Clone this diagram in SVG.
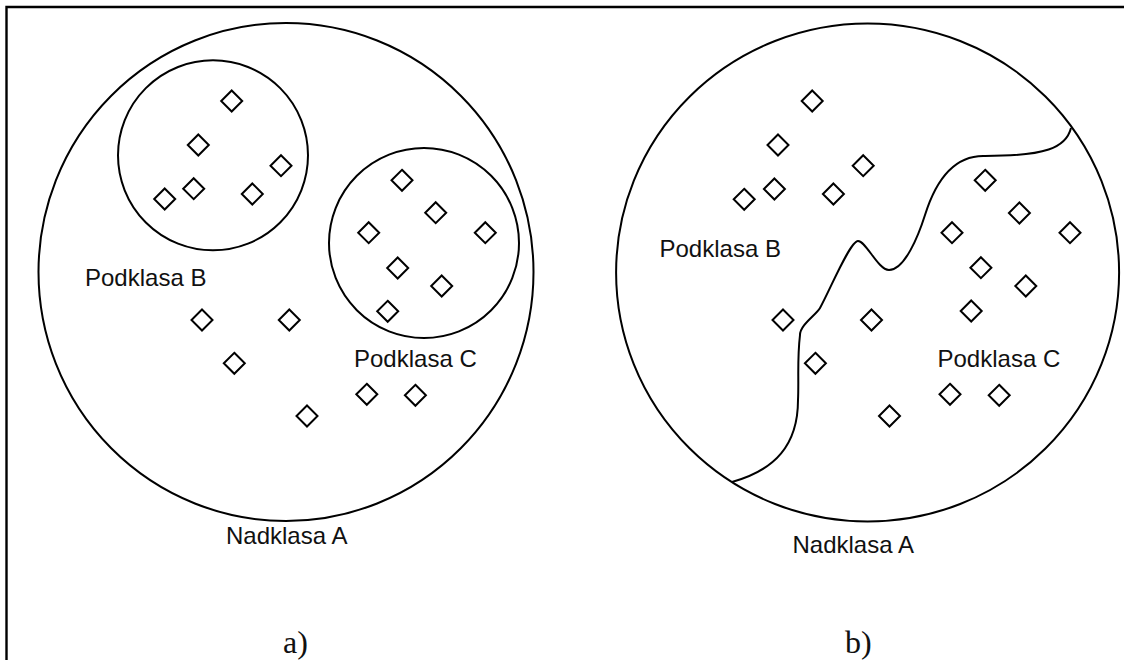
<svg xmlns="http://www.w3.org/2000/svg" xmlns:xlink="http://www.w3.org/1999/xlink" width="1124" height="660" viewBox="0 0 1124 660">
<style>
.ln{fill:none;stroke:#000;stroke-width:2}
.fr{fill:none;stroke:#000;stroke-width:2.4}
.lb{font-family:"Liberation Sans",Arial,sans-serif;font-size:24px;fill:#111}
.cap{font-family:"Liberation Serif","Times New Roman",serif;font-size:32px;fill:#111}
</style>
<defs>
<path id="dm" class="ln" d="M0,-10.5 L10.5,0 L0,10.5 L-10.5,0 Z"/>
</defs>
<rect width="1124" height="660" fill="#fff"/>
<g id="frame">
<path class="fr" d="M6.5,660 V7 H1124"/>
</g>

<g id="panel-a">
<g id="a-nadklasa-A">
<ellipse class="ln" cx="286" cy="272" rx="247.5" ry="249"/>
<text class="lb" x="226" y="544">Nadklasa A</text>
</g>
<g id="a-podklasa-B">
<circle class="ln" cx="213" cy="155.3" r="95"/>
<text class="lb" x="85" y="285.7">Podklasa B</text>
<use href="#dm" x="231.7" y="101"/>
<use href="#dm" x="198.3" y="145"/>
<use href="#dm" x="281" y="165.7"/>
<use href="#dm" x="193.7" y="188.7"/>
<use href="#dm" x="164.7" y="199"/>
<use href="#dm" x="252.3" y="194"/>
</g>
<g id="a-podklasa-C">
<circle class="ln" cx="424" cy="243" r="95"/>
<text class="lb" x="354" y="367.3">Podklasa C</text>
<use href="#dm" x="402" y="180.3"/>
<use href="#dm" x="435.7" y="212.7"/>
<use href="#dm" x="368.7" y="232.7"/>
<use href="#dm" x="485.3" y="232.7"/>
<use href="#dm" x="397.7" y="268"/>
<use href="#dm" x="441.7" y="286"/>
<use href="#dm" x="387.7" y="311.3"/>
</g>
<g id="a-points">
<use href="#dm" x="202" y="320"/>
<use href="#dm" x="289.3" y="320"/>
<use href="#dm" x="234.3" y="363.3"/>
<use href="#dm" x="307" y="416"/>
<use href="#dm" x="366.8" y="394.3"/>
<use href="#dm" x="415.4" y="395.3"/>
</g>
<text id="caption-a" class="cap" x="283" y="653">a)</text>
</g>

<g id="panel-b">
<g id="b-nadklasa-A">
<ellipse class="ln" cx="867.6" cy="272.5" rx="251.5" ry="249"/>
<text class="lb" x="792.5" y="553.3">Nadklasa A</text>
</g>
<g id="connectors">
<path id="b-boundary" class="ln" d="M1071,128 C1066,148 1045,156 985,156 C955,155 936,180 925,215 C919,234 905,270 889,270 C878,270 866,241 858,241 C850,241 830,290 820,308 C816,315 800,325 800,335 C797,360 799,380 798,400 C798,445 775,470 732,482"/>
</g>
<g id="b-podklasa-B">
<text class="lb" x="659.5" y="257">Podklasa B</text>
<use href="#dm" x="812.2" y="101"/>
<use href="#dm" x="778" y="145"/>
<use href="#dm" x="863.2" y="165.7"/>
<use href="#dm" x="774.4" y="189"/>
<use href="#dm" x="744.2" y="199.3"/>
<use href="#dm" x="833.4" y="194"/>
<use href="#dm" x="783" y="320"/>
<use href="#dm" x="871.5" y="320"/>
</g>
<g id="b-podklasa-C">
<text class="lb" x="937.5" y="367.3">Podklasa C</text>
<use href="#dm" x="985.2" y="180.3"/>
<use href="#dm" x="1019.4" y="213"/>
<use href="#dm" x="952" y="232.7"/>
<use href="#dm" x="1070" y="232.7"/>
<use href="#dm" x="980.9" y="267.7"/>
<use href="#dm" x="1025.8" y="286"/>
<use href="#dm" x="971.2" y="311"/>
<use href="#dm" x="815.4" y="363.3"/>
<use href="#dm" x="889.5" y="416"/>
<use href="#dm" x="950" y="394.3"/>
<use href="#dm" x="999.2" y="395.3"/>
</g>
<text id="caption-b" class="cap" x="845" y="653">b)</text>
</g>
</svg>
